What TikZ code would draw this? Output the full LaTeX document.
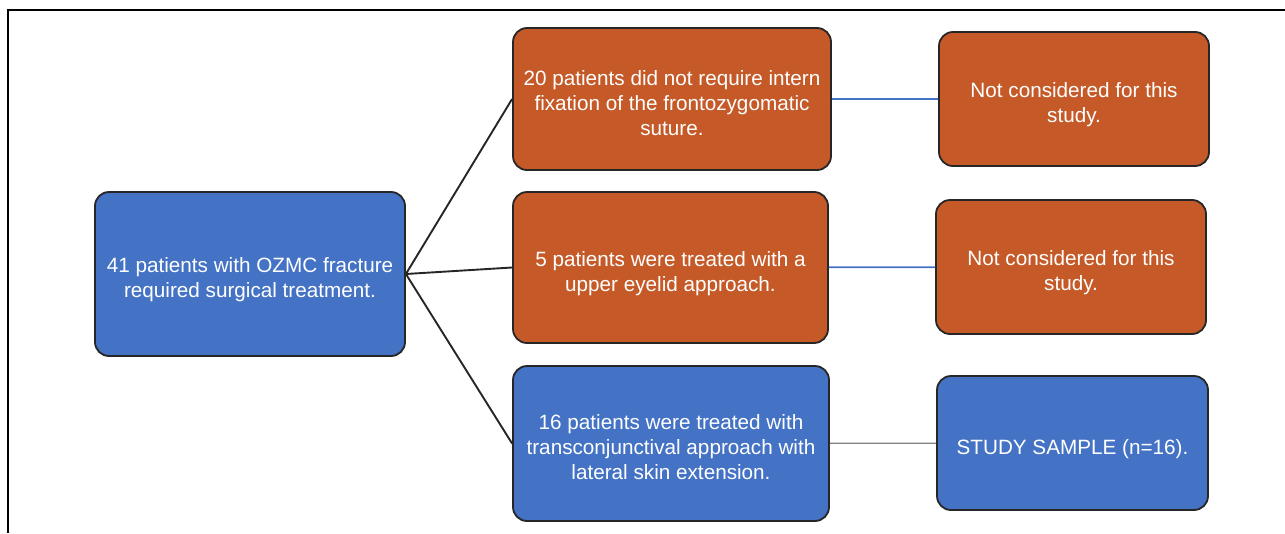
\documentclass[tikz,border=0pt]{standalone}
\usepackage{fontspec}
\setmainfont{Liberation Sans}
\definecolor{boxblue}{HTML}{4472C4}
\definecolor{boxorange}{HTML}{C55A28}
\definecolor{boxline}{HTML}{262626}
\newcommand{\boxtext}[1]{\raisebox{-6pt}[\height][\depth]{\begin{tabular}{@{}c@{}}#1\end{tabular}}}
\begin{document}
\begin{tikzpicture}[x=1pt, y=-1pt]

\tikzstyle{b}=[draw=boxline, line width=1.8pt, rounded corners=14pt, text=white, align=center, font=\fontsize{20.7}{25}\selectfont, inner sep=0pt];
\tikzstyle{blue}=[b, fill=boxblue];
\tikzstyle{orange}=[b, fill=boxorange];
\tikzstyle{e}=[line width=1.9pt, boxline];

\useasboundingbox (0, 0) rectangle (1285, 533);
\draw[line width=2.6pt] (8, 533) -- (8, 10) -- (1285, 10);

\node[blue, minimum width=310, minimum height=164] (total) at (250, 274) {\boxtext{41 patients with OZMC fracture\\required surgical treatment.}};

\node[orange, minimum width=318, minimum height=142] (noFix) at (672, 99) {\boxtext{20 patients did not require intern\\fixation of the frontozygomatic\\suture.}};
\node[orange, minimum width=315, minimum height=151] (eyelid) at (670.5, 267.5) {\boxtext{5 patients were treated with a\\upper eyelid approach.}};
\node[blue, minimum width=316, minimum height=155] (transconj) at (671, 443.5) {\boxtext{16 patients were treated with\\transconjunctival approach with\\lateral skin extension.}};

\node[orange, minimum width=270, minimum height=134] (excl1) at (1074, 99) {\boxtext{Not considered for this\\study.}};
\node[orange, minimum width=270, minimum height=134] (excl2) at (1071, 267) {\boxtext{Not considered for this\\study.}};
\node[blue, minimum width=271, minimum height=134] (sample) at (1072.5, 443) {\boxtext{STUDY SAMPLE (n=16).}};

\draw[e] (total.east) to (noFix.west);
\draw[e] (total.east) to (eyelid.west);
\draw[e] (total.east) to (transconj.west);

%\draw[e] (total.east) to (sample.west);

\draw[boxblue, line width=1.8pt] (noFix) to (excl1);
\draw[boxblue, line width=1.8pt] (eyelid) to (excl2);
\draw[gray, line width=1.2pt] (transconj) to (sample);
\end{tikzpicture}
\end{document}
